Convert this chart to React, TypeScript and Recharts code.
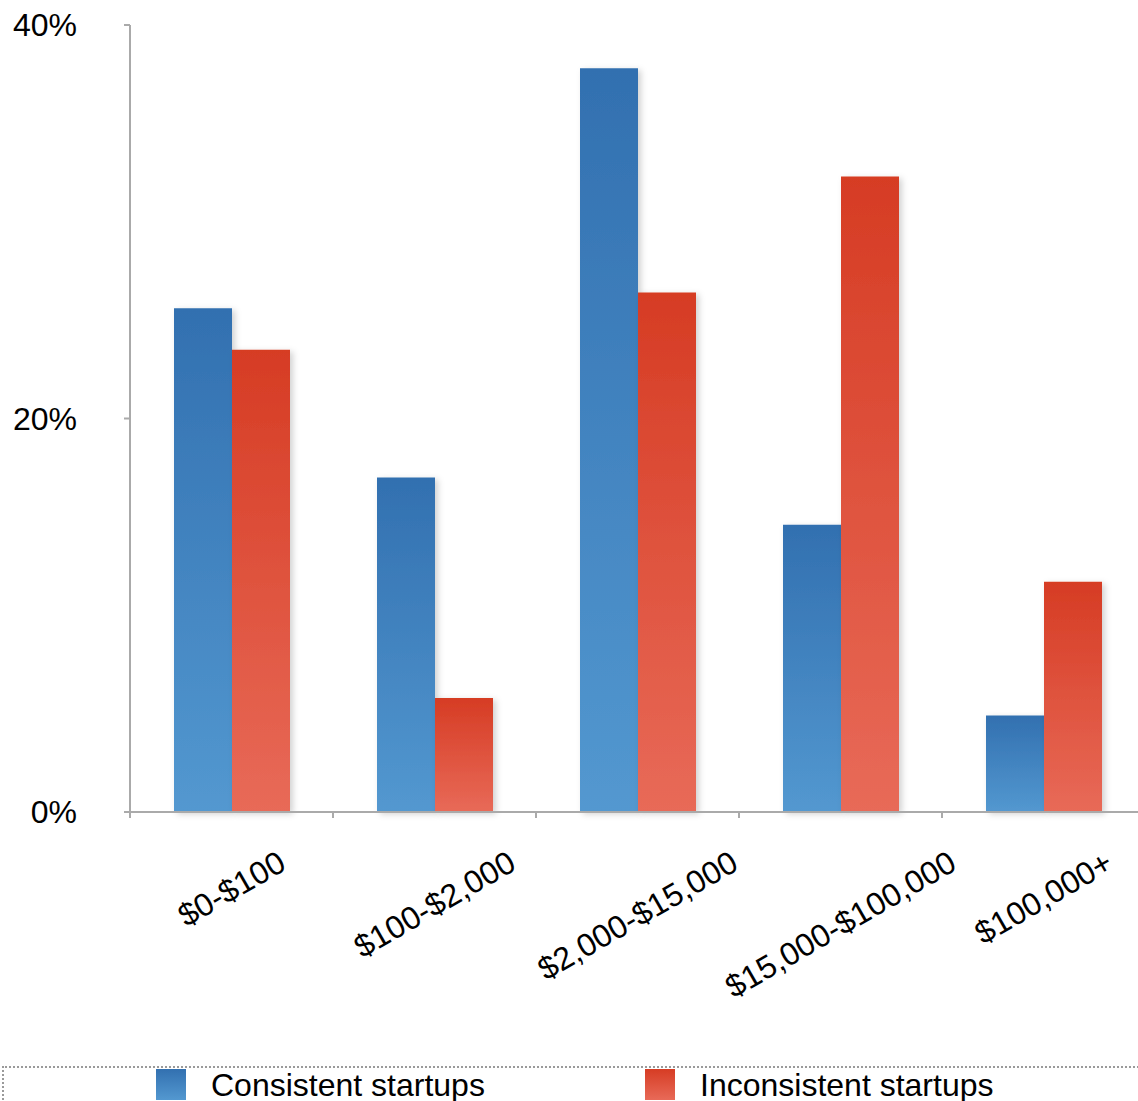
import React from 'react';
import { BarChart, Bar, XAxis, YAxis, Legend } from 'recharts';

const categories = ['$0-$100', '$100-$2,000', '$2,000-$15,000', '$15,000-$100,000', '$100,000+'];
const consistent = [25.6, 17.0, 37.8, 14.6, 4.9];
const inconsistent = [23.5, 5.8, 26.4, 32.3, 11.7];
const yTicks = [0, 20, 40];

const data = categories.map((name, i) => ({
  name,
  consistent: consistent[i],
  inconsistent: inconsistent[i],
}));

const FONT = '"Liberation Sans", Helvetica, Arial, sans-serif';

// rough Helvetica advance widths, in em
const charWidth = (c: string) => {
  if (c === ',' || c === '.') return 0.278;
  if (c === '-') return 0.333;
  if (c === '+') return 0.584;
  return 0.556;
};

function CategoryTick(props: any) {
  const { x, y, payload } = props;
  const fontSize = 32;
  const half = payload.offset ?? props.width / props.visibleTicksCount / 2;
  const w = String(payload.value).split('').reduce((s, c) => s + charWidth(c), 0) * fontSize;
  const h = fontSize * 0.75;
  const a = (30 * Math.PI) / 180;
  const cy = y + 37 + (w * Math.sin(a) + h * Math.cos(a)) / 2;
  return (
    <g>
      <line x1={x - half} y1={y} x2={x - half} y2={y + 6} stroke="#aaaaaa" strokeWidth={2} />
      <text
        x={x}
        y={cy}
        textAnchor="middle"
        dominantBaseline="central"
        transform={`rotate(-30, ${x}, ${cy})`}
        fontSize={fontSize}
        fontFamily={FONT}
        fill="#000"
      >
        {payload.value}
      </text>
    </g>
  );
}

function LegendBox() {
  const items = [
    { label: 'Consistent startups', left: 156, text: 211, from: '#3270b0', to: '#5398d0' },
    { label: 'Inconsistent startups', left: 645, text: 700, from: '#d63c24', to: '#e86a58' },
  ];
  return (
    <div
      style={{
        position: 'relative',
        height: 40,
        borderTop: '2px dotted #9a9a9a',
        borderLeft: '2px dotted #9a9a9a',
        fontFamily: FONT,
      }}
    >
      {items.map((it) => (
        <React.Fragment key={it.label}>
          <div
            style={{
              position: 'absolute',
              left: it.left - 4,
              top: 1,
              width: 30,
              height: 31,
              background: `linear-gradient(${it.from}, ${it.to})`,
            }}
          />
          <div
            style={{
              position: 'absolute',
              left: it.text - 4,
              top: -3,
              fontSize: 32,
              lineHeight: '40px',
              color: '#000',
              whiteSpace: 'nowrap',
            }}
          >
            {it.label}
          </div>
        </React.Fragment>
      ))}
    </div>
  );
}

export default function App() {
  return (
    <div
      style={{
        position: 'absolute',
        left: 0,
        top: 0,
        width: 1138,
        height: 1101,
        overflow: 'hidden',
        background: '#fff',
      }}
    >
      <BarChart
        width={1146}
        height={1101}
        data={data}
        margin={{ top: 25, right: 1, bottom: 0, left: 0 }}
        barSize={58}
        barGap={0}
      >
        <defs>
          <linearGradient id="blueFill" x1="0" y1="0" x2="0" y2="1">
            <stop offset="0%" stopColor="#3270b0" />
            <stop offset="100%" stopColor="#5398d0" />
          </linearGradient>
          <linearGradient id="redFill" x1="0" y1="0" x2="0" y2="1">
            <stop offset="0%" stopColor="#d63c24" />
            <stop offset="100%" stopColor="#e86a58" />
          </linearGradient>
          <filter id="barShadow" x="-20%" y="-5%" width="140%" height="115%">
            <feDropShadow dx={3} dy={2} stdDeviation={3} floodColor="#000" floodOpacity={0.18} />
          </filter>
        </defs>
        <XAxis
          dataKey="name"
          height={289}
          tickLine={false}
          tickSize={0}
          tickMargin={0}
          interval={0}
          axisLine={{ stroke: '#aaaaaa', strokeWidth: 2 }}
          tick={<CategoryTick />}
        />
        <YAxis
          width={130}
          domain={[0, 40]}
          ticks={yTicks}
          tickFormatter={(v) => `${v}%`}
          tickSize={6}
          tickMargin={47}
          axisLine={{ stroke: '#aaaaaa', strokeWidth: 2 }}
          tickLine={{ stroke: '#aaaaaa', strokeWidth: 2 }}
          tick={{ fontSize: 32, fontFamily: FONT, fill: '#000' }}
        />
        <Legend
          layout="vertical"
          align="center"
          verticalAlign="middle"
          wrapperStyle={{ left: 2, top: 1066, width: 1144, height: 40 }}
          content={() => <LegendBox />}
        />
        <Bar
          dataKey="consistent"
          name="Consistent startups"
          fill="url(#blueFill)"
          filter="url(#barShadow)"
          isAnimationActive={false}
        />
        <Bar
          dataKey="inconsistent"
          name="Inconsistent startups"
          fill="url(#redFill)"
          filter="url(#barShadow)"
          isAnimationActive={false}
        />
      </BarChart>
    </div>
  );
}
